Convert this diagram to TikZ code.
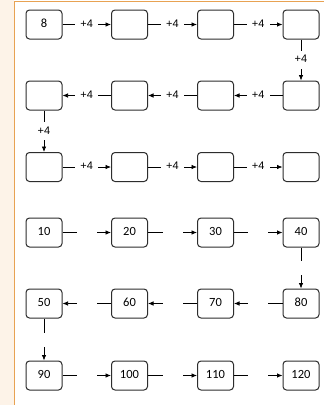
\documentclass[tikz,border=0pt]{standalone}
\usepackage{fontspec}
\setmainfont{Carlito}
\newfontfamily\labfont{Liberation Sans}
\usetikzlibrary{arrows.meta}
\definecolor{cream}{RGB}{253,243,232}
\definecolor{frameor}{RGB}{232,162,82}
\definecolor{boxline}{RGB}{45,45,45}
\begin{document}
\begin{tikzpicture}[x=1pt,y=-1pt,
  numbox/.style={draw=boxline,line width=1pt,rounded corners=3.5pt,minimum width=36pt,minimum height=29pt,inner sep=0pt,font=\fontsize{12.5}{12.5}\selectfont},
  conn/.style={line width=0.75pt,-{Latex[length=5.5pt,width=4.5pt]}},
  hlab/.style={fill=white,inner sep=0pt,minimum width=23pt,minimum height=10pt,font=\labfont\fontsize{11}{11}\selectfont},
  vlab/.style={fill=white,inner sep=0pt,minimum width=15pt,minimum height=18pt,font=\labfont\fontsize{11}{11}\selectfont},
  hgap/.style={fill=white,inner sep=0pt,minimum width=20pt,minimum height=6pt},
  vgap/.style={fill=white,inner sep=0pt,minimum width=6pt,minimum height=14pt}]
\useasboundingbox (0,0) rectangle (324,405);
\fill[white] (0,0) rectangle (324,405);
\fill[cream] (0,0) rectangle (14,405);
\draw[frameor,line width=1pt] (14,405) -- (14,1.2) -- (324,1.2);
% boxes
\newcommand{\bx}[4]{\node[numbox] (#1) at (#2,#3) {\raisebox{3pt}{#4}};}
\bx{a1}{44}{24.5}{8}
\bx{a2}{129.5}{24.5}{}
\bx{a3}{215.5}{24.5}{}
\bx{a4}{301}{24.5}{}
\bx{b1}{44}{95.5}{}
\bx{b2}{129.5}{95.5}{}
\bx{b3}{215.5}{95.5}{}
\bx{b4}{301}{95.5}{}
\bx{c1}{44}{167}{}
\bx{c2}{129.5}{167}{}
\bx{c3}{215.5}{167}{}
\bx{c4}{301}{167}{}
\bx{d1}{44}{232.5}{10}
\bx{d2}{129.5}{232.5}{20}
\bx{d3}{215.5}{232.5}{30}
\bx{d4}{301}{232.5}{40}
\bx{e1}{44}{303.5}{50}
\bx{e2}{129.5}{303.5}{60}
\bx{e3}{215.5}{303.5}{70}
\bx{e4}{301}{303.5}{80}
\bx{f1}{44}{375.5}{90}
\bx{f2}{129.5}{375.5}{100}
\bx{f3}{215.5}{375.5}{110}
\bx{f4}{301}{375.5}{120}
% labelled connectors
\draw[conn] (a1.east) -- node[hlab]{\raisebox{2.5pt}{+4}} (a2.west);
\draw[conn] (a2.east) -- node[hlab]{\raisebox{2.5pt}{+4}} (a3.west);
\draw[conn] (a3.east) -- node[hlab]{\raisebox{2.5pt}{+4}} (a4.west);
\draw[conn] (a4.south) -- node[vlab]{\raisebox{2pt}{+4}} (b4.north);
\draw[conn] (b4.west) -- node[hlab]{\raisebox{2.5pt}{+4}} (b3.east);
\draw[conn] (b3.west) -- node[hlab]{\raisebox{2.5pt}{+4}} (b2.east);
\draw[conn] (b2.west) -- node[hlab]{\raisebox{2.5pt}{+4}} (b1.east);
\draw[conn] (b1.south) -- node[vlab]{\raisebox{2pt}{+4}} (c1.north);
\draw[conn] (c1.east) -- node[hlab]{\raisebox{2.5pt}{+4}} (c2.west);
\draw[conn] (c2.east) -- node[hlab]{\raisebox{2.5pt}{+4}} (c3.west);
\draw[conn] (c3.east) -- node[hlab]{\raisebox{2.5pt}{+4}} (c4.west);
% gapped connectors
\draw[conn] (d1.east) -- node[hgap]{} (d2.west);
\draw[conn] (d2.east) -- node[hgap]{} (d3.west);
\draw[conn] (d3.east) -- node[hgap]{} (d4.west);
\draw[conn] (d4.south) -- node[vgap]{} (e4.north);
\draw[conn] (e4.west) -- node[hgap]{} (e3.east);
\draw[conn] (e3.west) -- node[hgap]{} (e2.east);
\draw[conn] (e2.west) -- node[hgap]{} (e1.east);
\draw[conn] (e1.south) -- node[vgap]{} (f1.north);
\draw[conn] (f1.east) -- node[hgap]{} (f2.west);
\draw[conn] (f2.east) -- node[hgap]{} (f3.west);
\draw[conn] (f3.east) -- node[hgap]{} (f4.west);
\end{tikzpicture}
\end{document}
